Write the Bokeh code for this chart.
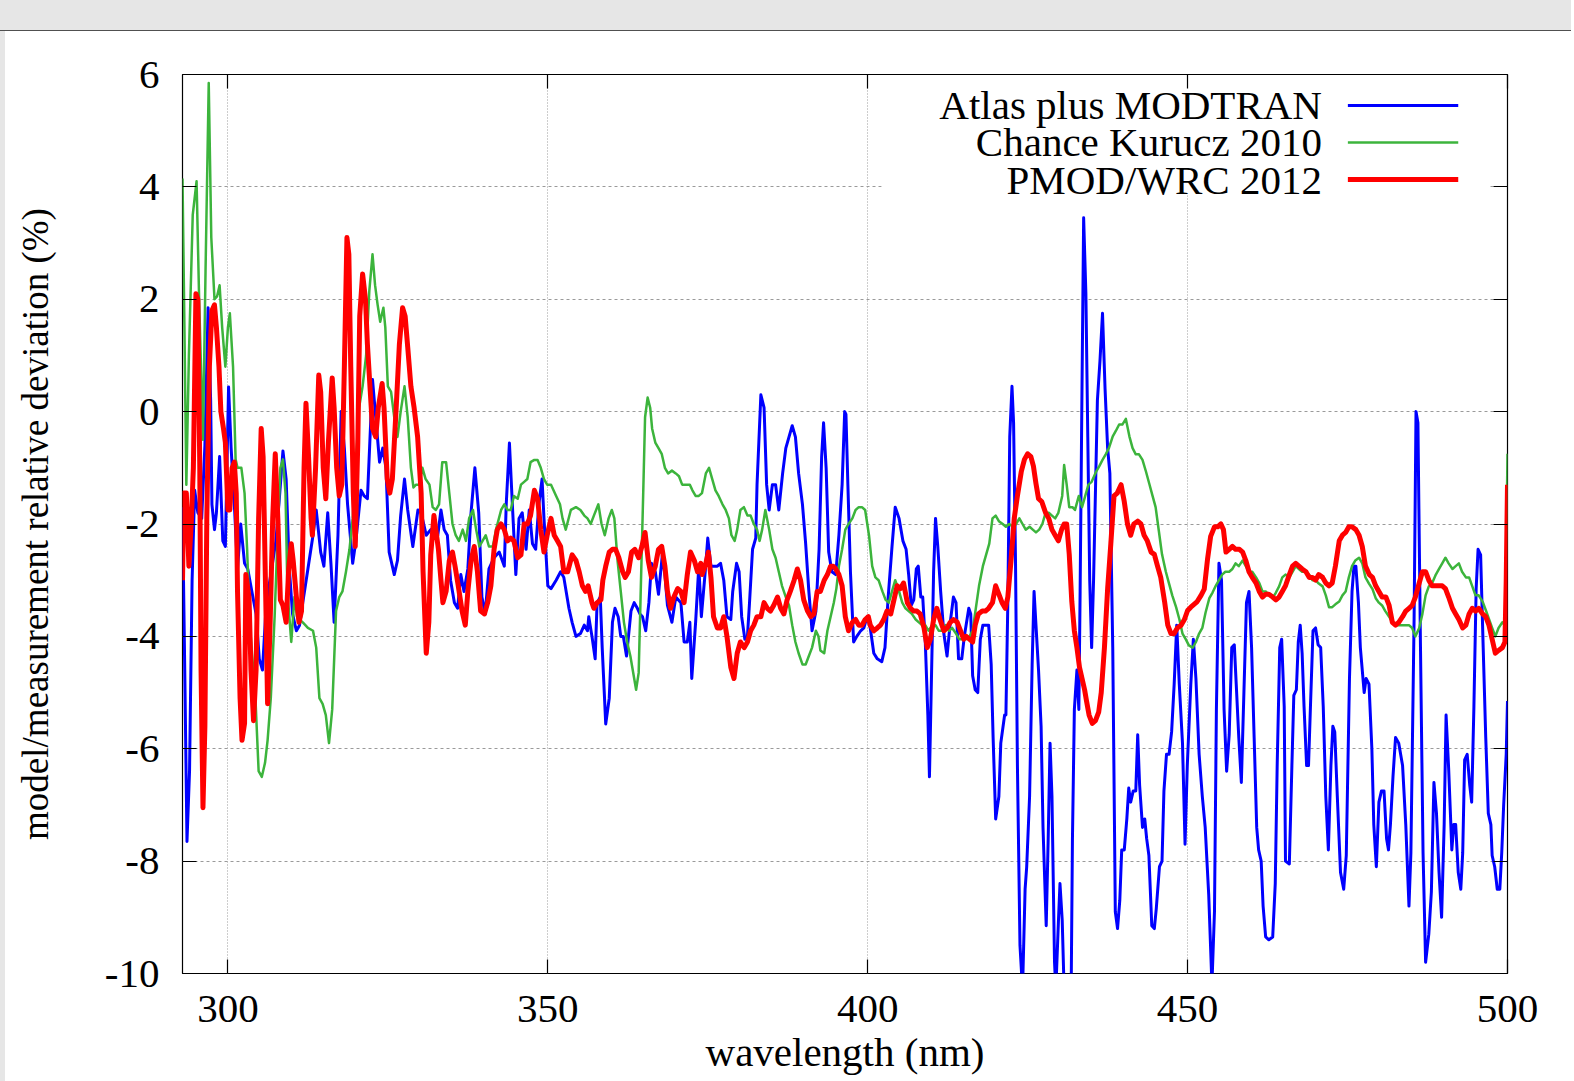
import numpy as np
from bokeh.plotting import figure
from bokeh.models import (Range1d, FixedTicker, LinearAxis, Label, Arrow,
                          BoxAnnotation, Grid, Div)
from bokeh.layouts import column, row
from bokeh.embed import file_html
from bokeh.resources import INLINE

# ---------------- data ----------------
wl_atlas = [292.9, 293.3, 293.6, 294.0, 294.4, 294.8, 295.3, 295.9, 296.4, 296.9, 297.3, 297.5, 297.9, 298.2, 298.7,
            299.2, 299.6, 300.1, 300.5, 301.0, 301.5, 302.0, 302.6, 303.1, 303.9, 304.4, 304.9, 305.4, 306.0, 306.7,
            307.5, 308.0, 308.6, 309.1, 309.6, 310.1, 310.7, 311.2, 311.7, 312.5, 313.3, 313.8, 314.5, 315.0, 315.6,
            316.1, 316.6, 317.2, 317.7, 318.2, 318.7, 319.5, 320.0, 320.8, 321.3, 321.8, 322.6, 323.1, 323.7, 324.2,
            324.7, 325.2, 326.0, 326.5, 327.0, 327.6, 328.1, 328.9, 329.7, 330.2, 331.0, 331.7, 332.8, 333.3, 333.8,
            334.3, 334.8, 335.4, 335.9, 336.4, 336.9, 337.5, 338.0, 338.6, 339.2, 339.7, 340.2, 340.8, 341.6, 342.4,
            343.2, 343.5, 344.0, 344.5, 345.0, 345.5, 346.0, 346.6, 347.1, 347.6, 348.1, 348.6, 349.1, 349.4, 350.0,
            350.5, 351.3, 352.0, 352.5, 353.3, 353.8, 354.4, 355.1, 355.7, 356.2, 356.4, 356.9, 357.4, 357.7, 358.2,
            358.5, 359.05, 359.6, 360.1, 360.5, 361.0, 361.4, 361.8, 362.3, 363.0, 363.5, 364.0, 364.4, 364.8, 365.3,
            365.8, 366.2, 366.8, 367.3, 367.9, 368.3, 368.7, 369.4, 370.0, 370.8, 371.3, 371.8, 372.2, 372.5, 373.1,
            373.6, 374.0, 374.6, 375.0, 375.5, 376.0, 376.5, 377.0, 377.5, 378.0, 378.6, 378.9, 379.5, 379.9, 380.3,
            380.8, 381.2, 381.5, 382.0, 382.5, 382.7, 383.3, 383.8, 384.2, 384.6, 385.1, 385.6, 386.1, 386.7, 387.2,
            387.7, 388.2, 388.7, 389.2, 389.8, 390.3, 390.8, 391.3, 391.9, 392.4, 392.8, 393.1, 393.5, 393.9, 394.4,
            395.0, 395.5, 396.0, 396.4, 396.6, 396.9, 397.3, 397.8, 398.3, 398.9, 399.4, 399.9, 400.4, 400.95, 401.5,
            402.2, 402.7, 403.2, 403.8, 404.3, 404.9, 405.5, 406.0, 406.4, 406.8, 407.2, 407.6, 407.9, 408.3, 408.6,
            409.0, 409.4, 409.65, 409.9, 410.3, 410.6, 410.95, 411.4, 411.9, 412.4, 412.9, 413.4, 413.8, 414.2, 414.7,
            415.1, 415.8, 416.1, 416.4, 416.8, 417.2, 417.6, 418.0, 418.5, 418.9, 419.3, 419.6, 420.0, 420.5, 420.8,
            421.4, 421.6, 421.9, 422.2, 422.55, 422.8, 423.1, 423.4, 423.8, 424.2, 424.6, 424.85, 425.3, 425.7, 426.0,
            426.3, 426.7, 427.1, 427.4, 427.9, 428.2, 428.5, 428.8, 429.2, 429.4, 429.8, 430.05, 430.4, 430.7, 431.2,
            431.8, 432.0, 432.3, 432.7, 433.0, 433.2, 433.5, 433.75, 434.1, 434.4, 434.7, 435.0, 435.3, 435.6, 435.9,
            436.3, 436.7, 437.1, 437.5, 437.85, 438.3, 438.7, 439.05, 439.4, 439.7, 440.1, 440.5, 440.8, 441.1, 441.5,
            441.9, 442.2, 442.5, 442.95, 443.3, 443.6, 443.95, 444.4, 444.8, 445.1, 445.6, 446.0, 446.3, 446.7, 447.1,
            447.5, 447.9, 448.3, 448.7, 449.2, 449.6, 449.95, 450.5, 450.9, 451.3, 451.8, 452.3, 452.75, 453.3, 453.8,
            454.2, 454.5, 454.9, 455.3, 455.7, 456.1, 456.5, 456.9, 457.3, 457.6, 458.0, 458.4, 458.8, 459.2, 459.6,
            460.0, 460.4, 460.8, 461.1, 461.5, 461.8, 462.2, 462.7, 463.3, 463.7, 464.0, 464.4, 464.7, 465.1, 465.3,
            465.9, 466.3, 466.6, 467.0, 467.3, 467.6, 467.9, 468.2, 468.6, 468.9, 469.2, 469.6, 470.0, 470.4, 470.8,
            471.2, 471.6, 472.0, 472.4, 472.7, 473.0, 473.4, 473.9, 474.4, 474.8, 475.3, 475.7, 476.0, 476.3, 476.7,
            477.0, 477.6, 477.9, 478.35, 478.8, 479.1, 479.5, 479.9, 480.3, 480.7, 481.1, 481.4, 481.7, 482.1, 482.5,
            483.0, 483.6, 484.1, 484.6, 484.9, 485.4, 485.7, 486.0, 486.4, 486.8, 487.2, 487.7, 488.1, 488.5, 488.9,
            489.3, 489.7, 490.1, 490.4, 490.8, 491.3, 491.6, 491.9, 492.3, 492.7, 493.0, 493.3, 493.7, 494.1, 494.4,
            494.75, 495.1, 495.4, 495.8, 496.2, 496.6, 497.0, 497.4, 497.6, 498.0, 498.4, 498.8, 499.1, 499.4, 499.8,
            500.0]
dev_atlas = [-1.7, -5.0, -7.65, -6.4, -3.0, -1.4, -1.8, -1.9, -0.6, 1.85, 0.2, -1.65, -2.1, -1.8, -0.8,
             -2.3, -2.4, 0.44, -0.65, -1.65, -2.8, -2.0, -2.7, -2.8, -3.3, -3.6, -4.4, -4.6, -3.4, -2.9,
             -2.3, -1.6, -0.7, -1.2, -2.8, -3.6, -3.9, -3.8, -3.4, -2.8, -2.2, -1.75, -2.5, -2.75, -1.8,
             -2.7, -3.75, -2.2, 0.0, -0.65, -1.65, -2.7, -2.3, -1.4, -1.5, -1.55, 0.57, -0.1, -0.9, -0.65,
             -1.0, -2.5, -2.9, -2.65, -1.85, -1.2, -1.75, -2.4, -1.75, -1.8, -2.2, -2.1, -2.2, -1.75, -2.1,
             -2.2, -3.0, -3.4, -3.5, -2.9, -3.2, -2.8, -1.8, -1.0, -1.8, -3.3, -3.6, -2.8, -2.6, -2.5,
             -2.75, -1.65, -0.56, -1.75, -2.9, -1.9, -1.8, -2.45, -1.75, -2.35, -2.45, -1.65, -1.2, -1.9, -3.1,
             -3.15, -3.0, -2.85, -2.95, -3.5, -3.75, -4.0, -3.95, -3.8, -3.9, -3.65, -4.0, -4.4, -3.4, -3.3,
             -4.2, -5.56, -5.1, -3.75, -3.5, -3.65, -4.0, -4.0, -4.35, -3.55, -3.4, -3.5, -3.6, -3.65, -3.9,
             -3.4, -2.7, -2.85, -3.25, -2.55, -2.9, -3.45, -3.75, -3.3, -3.4, -4.1, -4.1, -3.75, -4.75, -3.75,
             -2.75, -3.65, -2.85, -2.25, -2.75, -2.75, -2.75, -2.7, -3.0, -3.65, -3.7, -3.2, -2.7, -2.85, -3.65,
             -4.05, -4.0, -3.45, -2.45, -2.25, -1.3, 0.3, 0.07, -1.3, -1.75, -1.3, -1.3, -1.75, -1.1, -0.65,
             -0.45, -0.25, -0.45, -1.1, -1.65, -2.35, -3.2, -3.9, -3.55, -2.45, -0.8, -0.2, -1.0, -2.5, -2.85,
             -2.9, -2.2, -1.3, 0.0, -0.05, -1.3, -2.85, -4.1, -4.0, -3.9, -3.85, -3.65, -3.85, -4.3, -4.4,
             -4.45, -4.2, -3.3, -2.4, -1.7, -1.9, -2.3, -2.45, -2.9, -3.45, -3.35, -2.8, -2.75, -3.3, -3.3,
             -4.1, -5.4, -6.5, -5.1, -2.85, -1.9, -2.4, -3.2, -3.95, -4.35, -3.75, -3.3, -3.4, -4.4, -4.4,
             -4.0, -3.5, -3.6, -4.7, -4.95, -5.0, -4.05, -3.8, -3.8, -3.8, -4.5, -5.8, -7.25, -6.85, -5.9,
             -5.4, -5.4, -3.4, -0.45, 0.45, -0.2, -2.65, -6.3, -9.5, -10.3, -8.5, -8.1, -6.85, -4.5, -3.2,
             -3.8, -4.6, -5.6, -7.4, -9.15, -7.65, -5.9, -6.85, -9.8, -10.3, -9.1, -8.4, -9.05, -10.3, -10.5,
             -10.3, -7.6, -5.3, -4.6, -5.3, -3.2, 0.5, 3.45, 2.1, -0.45, -3.0, -4.2, -3.0, -1.4, 0.2,
             0.9, 1.75, 0.4, -0.65, -1.1, -4.2, -8.9, -9.2, -8.7, -7.8, -7.8, -7.25, -6.7, -6.95, -6.75,
             -6.75, -5.75, -6.65, -7.4, -7.25, -7.6, -7.9, -9.15, -9.2, -8.85, -8.1, -8.0, -6.75, -6.1, -6.1,
             -5.7, -4.85, -3.8, -4.85, -5.9, -7.7, -6.3, -4.85, -4.05, -4.75, -6.1, -6.85, -7.4, -8.6, -10.2,
             -8.9, -5.3, -2.7, -3.0, -5.3, -6.4, -5.75, -4.2, -4.15, -4.85, -5.8, -6.6, -5.0, -3.4, -3.2,
             -4.2, -5.8, -7.4, -7.8, -8.0, -8.8, -9.35, -9.4, -9.35, -8.4, -6.3, -4.2, -4.05, -5.25, -8.0,
             -8.05, -6.3, -5.05, -4.95, -4.1, -3.8, -4.3, -5.25, -6.3, -6.3, -5.25, -3.9, -3.85, -4.15, -4.2,
             -5.25, -6.85, -7.8, -6.3, -5.6, -5.7, -6.85, -8.2, -8.5, -7.9, -4.75, -3.2, -2.75, -2.75, -3.4,
             -4.2, -5.0, -4.75, -4.85, -6.0, -7.35, -8.1, -6.95, -6.75, -6.75, -7.6, -7.8, -7.35, -6.5, -5.8,
             -5.9, -6.3, -7.35, -8.8, -7.85, -3.7, 0.0, -0.2, -4.2, -7.85, -9.8, -9.3, -8.55, -6.6, -7.15,
             -8.2, -9.0, -7.35, -5.4, -6.35, -7.8, -7.35, -7.35, -8.2, -8.5, -7.85, -6.2, -6.1, -6.65, -6.95,
             -5.25, -3.15, -2.45, -2.55, -4.2, -5.8, -7.15, -7.35, -7.9, -8.1, -8.5, -8.5, -7.85, -7.0, -6.1,
             -5.15]

wl_chance = [292.9, 293.2, 293.5, 293.9, 294.5, 295.1, 295.5, 296.1, 296.5, 297.0, 297.4, 297.9, 298.3, 298.7, 299.1,
             299.6, 300.0, 300.3, 300.8, 301.2, 301.5, 302.1, 302.6, 303.0, 303.4, 303.8, 304.3, 304.8, 305.3, 305.8,
             306.2, 306.7, 307.3, 307.8, 308.2, 308.6, 309.0, 309.3, 309.9, 310.4, 310.8, 311.2, 311.7, 312.5, 313.3,
             313.8, 314.3, 314.8, 315.3, 315.8, 316.3, 316.9, 317.4, 317.9, 318.45, 319.0, 319.5, 320.0, 320.5, 321.05,
             321.6, 322.1, 322.6, 323.0, 323.4, 323.8, 324.3, 324.6, 325.0, 325.5, 326.0, 326.5, 327.0, 327.6, 328.1,
             328.6, 329.0, 329.4, 329.9, 330.4, 330.9, 331.5, 332.0, 332.5, 333.0, 333.5, 334.1, 334.6, 335.1, 335.6,
             336.1, 336.7, 337.2, 337.7, 338.3, 338.8, 339.3, 339.8, 340.3, 340.8, 341.4, 341.9, 342.7, 343.2, 343.7,
             344.2, 344.7, 345.3, 345.8, 346.3, 346.8, 347.3, 347.9, 348.4, 348.9, 349.4, 349.9, 350.5, 351.3, 351.9,
             352.3, 352.8, 353.6, 354.4, 355.1, 355.7, 356.2, 356.7, 357.2, 357.9, 358.4, 358.9, 359.5, 360.0, 360.4,
             360.9, 361.4, 361.9, 362.4, 362.9, 363.5, 363.8, 364.2, 364.5, 364.9, 365.2, 365.6, 366.0, 366.3, 366.8,
             367.3, 367.8, 368.3, 368.8, 369.4, 370.0, 370.5, 371.0, 371.5, 372.2, 372.6, 373.1, 373.6, 374.1, 374.7,
             375.2, 375.7, 376.2, 376.7, 377.3, 377.8, 378.3, 378.7, 379.2, 379.6, 380.1, 380.65, 381.2, 381.7, 382.2,
             382.7, 383.1, 383.5, 384.0, 384.6, 385.1, 385.6, 386.1, 386.6, 387.2, 387.7, 388.2, 388.7, 389.2, 389.8,
             390.3, 390.8, 391.3, 391.9, 392.3, 392.6, 393.2, 393.7, 394.2, 394.7, 395.1, 395.5, 396.0, 396.5, 397.0,
             397.6, 398.1, 398.6, 399.1, 399.6, 400.2, 400.7, 401.2, 401.7, 402.3, 402.8, 403.3, 403.8, 404.3, 404.9,
             405.4, 405.9, 406.4, 406.9, 407.5, 408.0, 408.5, 409.0, 409.5, 410.1, 410.6, 411.1, 411.6, 412.2, 412.7,
             413.2, 413.8, 414.3, 414.8, 415.4, 415.9, 416.4, 416.9, 417.4, 418.0, 418.5, 419.0, 419.5, 420.0, 420.5,
             421.1, 421.6, 422.1, 422.7, 423.2, 423.7, 424.2, 424.7, 425.3, 425.8, 426.3, 426.8, 427.3, 427.8, 428.3,
             428.8, 429.3, 429.8, 430.4, 430.7, 431.1, 431.5, 432.0, 432.4, 433.0, 433.5, 434.0, 434.5, 435.0, 435.7,
             436.2, 436.7, 437.2, 437.7, 438.3, 438.8, 439.3, 439.8, 440.35, 440.9, 441.4, 441.9, 442.4, 442.95, 443.5,
             444.0, 444.5, 445.0, 445.5, 446.0, 446.6, 447.1, 447.6, 448.2, 448.7, 449.2, 449.7, 450.2, 450.8, 451.3,
             451.8, 452.3, 452.8, 453.4, 453.9, 454.4, 454.9, 455.4, 455.9, 456.5, 457.0, 457.5, 458.0, 458.6, 459.1,
             459.6, 460.1, 460.7, 461.2, 461.7, 462.2, 462.8, 463.3, 463.8, 464.3, 464.8, 465.3, 465.9, 466.4, 466.9,
             467.4, 467.9, 468.5, 469.0, 469.5, 470.0, 470.5, 471.1, 471.6, 472.1, 472.6, 473.1, 473.7, 474.2, 474.7,
             475.2, 475.7, 476.2, 476.8, 477.3, 477.8, 478.35, 478.9, 479.4, 479.9, 480.4, 480.9, 481.5, 482.0, 482.5,
             483.0, 483.6, 484.1, 484.6, 485.1, 485.6, 486.2, 486.7, 487.2, 487.7, 488.2, 488.8, 489.3, 489.8, 490.3,
             490.8, 491.4, 491.9, 492.4, 492.9, 493.5, 494.0, 494.5, 495.0, 495.5, 496.1, 496.6, 497.1, 497.6, 498.1,
             498.6, 499.2, 499.6, 499.8, 500.0]
dev_chance = [4.15, 1.5, -1.3, 1.0, 3.5, 4.1, 2.0, -0.5, 2.5, 5.85, 3.1, 2.0, 2.05, 2.25, 1.5,
              0.8, 1.5, 1.75, 0.8, -0.85, -1.0, -1.0, -1.45, -2.45, -3.75, -4.35, -5.1, -6.4, -6.5, -6.25,
              -5.85, -5.1, -3.65, -2.1, -1.0, -0.85, -1.45, -3.2, -4.1, -3.3, -3.65, -3.7, -3.75, -3.85, -3.9,
              -4.2, -5.1, -5.2, -5.4, -5.9, -5.3, -3.55, -3.3, -3.2, -2.85, -2.45, -1.9, -0.9, 0.07, 0.45,
              1.0, 2.15, 2.8, 2.25, 1.9, 1.6, 1.85, 1.5, 0.45, 0.35, -0.1, -0.45, 0.0, 0.45, -0.1,
              -1.0, -1.35, -1.3, -1.3, -1.0, -1.2, -1.3, -1.7, -1.75, -1.65, -0.9, -0.9, -1.45, -2.0, -2.2,
              -2.3, -2.1, -2.3, -1.9, -1.75, -2.1, -2.4, -2.3, -2.2, -2.4, -2.4, -2.1, -1.75, -1.65, -1.75,
              -1.75, -1.5, -1.55, -1.3, -1.25, -1.2, -0.9, -0.86, -0.86, -1.0, -1.2, -1.3, -1.3, -1.5, -1.65,
              -1.9, -2.1, -1.75, -1.7, -1.75, -1.85, -1.9, -2.0, -1.85, -1.65, -2.0, -2.2, -1.9, -1.75, -1.9,
              -2.65, -3.2, -3.75, -4.1, -4.35, -4.75, -4.95, -4.65, -3.3, -1.5, -0.1, 0.25, 0.07, -0.3, -0.55,
              -0.65, -0.75, -1.0, -1.1, -1.05, -1.1, -1.15, -1.3, -1.3, -1.3, -1.4, -1.5, -1.5, -1.45, -1.1,
              -1.0, -1.2, -1.4, -1.5, -1.65, -1.75, -1.9, -2.2, -2.3, -2.1, -1.75, -1.7, -1.85, -1.85, -2.0,
              -2.1, -2.3, -2.1, -1.75, -2.1, -2.45, -2.6, -2.85, -3.1, -3.3, -3.45, -3.8, -4.1, -4.3, -4.5,
              -4.5, -4.35, -4.2, -3.9, -4.0, -4.25, -4.3, -3.9, -3.65, -3.4, -3.15, -2.75, -2.45, -2.1, -2.0,
              -1.9, -1.75, -1.7, -1.7, -1.75, -2.2, -2.75, -2.95, -3.0, -3.2, -3.35, -3.4, -3.2, -3.0, -3.2,
              -3.4, -3.5, -3.55, -3.6, -3.7, -3.75, -3.8, -3.8, -3.9, -3.8, -3.8, -3.9, -3.9, -3.8, -3.9,
              -3.85, -3.95, -4.05, -4.05, -4.05, -4.0, -3.9, -3.5, -3.1, -2.75, -2.55, -2.35, -1.9, -1.85, -1.95,
              -2.0, -2.05, -2.0, -2.05, -2.0, -1.9, -2.0, -2.1, -2.05, -2.1, -2.15, -2.1, -2.0, -1.8, -1.8,
              -1.85, -1.9, -1.8, -1.5, -0.95, -1.3, -1.7, -1.7, -1.75, -1.5, -1.7, -1.5, -1.3, -1.25, -1.07,
              -0.97, -0.86, -0.76, -0.65, -0.44, -0.34, -0.23, -0.23, -0.13, -0.44, -0.65, -0.76, -0.76, -0.86, -1.07,
              -1.28, -1.49, -1.7, -2.12, -2.54, -2.85, -3.06, -3.27, -3.48, -3.69, -3.95, -4.05, -4.16, -4.2, -4.1,
              -3.95, -3.85, -3.58, -3.32, -3.22, -3.1, -3.0, -2.9, -2.85, -2.85, -2.8, -2.7, -2.75, -2.65, -2.75,
              -2.85, -2.85, -2.95, -3.05, -3.2, -3.2, -3.27, -3.32, -3.22, -3.11, -2.95, -2.9, -2.95, -2.85, -2.75,
              -2.8, -2.85, -2.85, -2.9, -3.0, -3.0, -3.06, -3.11, -3.27, -3.48, -3.48, -3.43, -3.38, -3.27, -3.2,
              -2.95, -2.75, -2.65, -2.6, -2.7, -2.95, -3.06, -3.16, -3.32, -3.4, -3.45, -3.55, -3.65, -3.75, -3.8,
              -3.8, -3.8, -3.8, -3.8, -3.85, -4.0, -3.85, -3.6, -3.27, -3.11, -3.06, -2.9, -2.8, -2.7, -2.6,
              -2.7, -2.8, -2.75, -2.7, -2.85, -2.95, -2.95, -3.11, -3.27, -3.27, -3.38, -3.53, -3.69, -3.85, -4.0,
              -3.85, -3.75, -3.8, -2.5, -0.75]

wl_pmod = [292.9, 293.1, 293.5, 293.9, 294.3, 294.6, 295.0, 295.3, 295.6, 295.8, 296.1, 296.4, 296.7, 297.1, 297.5,
           297.9, 298.2, 298.6, 298.9, 299.3, 299.6, 300.0, 300.3, 300.65, 301.0, 301.3, 301.5, 301.9, 302.2, 302.6,
           302.8, 303.3, 303.6, 304.0, 304.4, 304.8, 305.2, 305.5, 305.9, 306.2, 306.6, 307.0, 307.4, 307.8, 308.2,
           308.6, 309.1, 309.5, 309.9, 310.2, 310.7, 311.1, 311.5, 311.9, 312.2, 312.6, 313.0, 313.2, 313.7, 314.2,
           314.5, 314.9, 315.3, 315.7, 316.3, 316.6, 317.0, 317.4, 317.8, 318.2, 318.6, 318.9, 319.2, 319.6, 319.9,
           320.3, 320.6, 321.05, 321.5, 321.8, 322.2, 322.6, 323.1, 323.5, 324.1, 324.4, 324.9, 325.3, 325.7, 326.3,
           326.8, 327.3, 327.7, 328.1, 328.6, 329.1, 329.65, 330.2, 330.5, 331.0, 331.4, 331.7, 332.2, 332.9, 333.3,
           333.6, 334.1, 334.6, 335.1, 335.5, 336.0, 336.6, 337.1, 337.5, 338.0, 338.5, 339.0, 339.5, 340.1, 340.6,
           341.1, 341.6, 342.1, 342.7, 343.2, 343.7, 344.2, 344.7, 345.3, 345.8, 346.3, 346.8, 347.3, 347.9, 348.4,
           348.9, 349.4, 349.9, 350.5, 351.0, 351.5, 352.0, 352.5, 353.1, 353.8, 354.4, 354.9, 355.4, 355.9, 356.3,
           356.9, 357.2, 357.7, 358.3, 358.6, 359.05, 359.6, 360.1, 360.6, 361.1, 361.7, 362.1, 362.6, 363.1, 363.6,
           364.2, 364.7, 365.2, 365.7, 366.2, 366.8, 367.3, 367.8, 368.3, 368.7, 369.2, 369.7, 370.3, 370.8, 371.3,
           371.8, 372.3, 372.9, 373.4, 373.9, 374.1, 374.7, 375.1, 375.5, 375.9, 376.5, 377.0, 377.5, 378.0, 378.6,
           379.1, 379.6, 380.1, 380.7, 381.2, 381.7, 382.2, 382.7, 383.3, 383.8, 384.3, 384.8, 385.3, 385.9, 386.4,
           386.9, 387.4, 387.9, 388.5, 389.0, 389.5, 390.0, 390.6, 391.1, 391.6, 392.1, 392.6, 393.2, 393.7, 394.2,
           394.6, 395.0, 395.5, 396.0, 396.5, 397.0, 397.6, 398.1, 398.6, 399.1, 399.6, 400.1, 400.4, 400.95, 401.5,
           402.0, 402.5, 403.0, 403.6, 404.1, 404.6, 405.1, 405.6, 406.2, 406.7, 407.2, 407.7, 408.2, 408.8, 409.3,
           409.8, 410.3, 410.8, 411.3, 411.9, 412.4, 412.9, 413.4, 414.0, 414.5, 415.0, 415.4, 415.9, 416.4, 416.8,
           417.3, 417.9, 418.4, 418.9, 419.5, 420.0, 420.5, 421.0, 421.5, 421.9, 422.4, 422.9, 423.4, 424.0, 424.5,
           425.0, 425.5, 425.9, 426.3, 426.7, 427.2, 427.8, 428.3, 428.8, 429.3, 429.8, 430.3, 430.7, 431.1, 431.5,
           431.9, 432.3, 432.7, 433.1, 433.5, 433.9, 434.2, 434.6, 435.1, 435.6, 436.1, 436.5, 437.0, 437.5, 438.0,
           438.5, 439.0, 439.6, 440.1, 440.6, 441.1, 441.6, 442.2, 442.7, 443.2, 443.7, 444.3, 444.8, 445.3, 445.8,
           446.4, 446.9, 447.4, 447.9, 448.4, 449.0, 449.5, 450.0, 450.5, 451.0, 451.5, 452.1, 452.6, 453.1, 453.6,
           454.2, 454.7, 455.2, 455.6, 456.0, 456.5, 457.0, 457.5, 458.1, 458.6, 459.1, 459.6, 460.1, 460.7, 461.2,
           461.7, 462.2, 462.7, 463.3, 463.8, 464.3, 464.8, 465.3, 465.9, 466.4, 466.9, 467.4, 467.9, 468.5, 469.0,
           469.5, 470.0, 470.5, 471.1, 471.6, 472.1, 472.6, 473.1, 473.7, 474.2, 474.7, 475.2, 475.7, 476.3, 476.8,
           477.3, 477.8, 478.4, 478.9, 479.4, 479.9, 480.4, 481.0, 481.5, 482.0, 482.5, 483.0, 483.6, 484.1, 484.6,
           485.1, 485.6, 486.2, 486.7, 487.2, 487.7, 488.2, 488.8, 489.3, 489.8, 490.3, 490.8, 491.4, 491.9, 492.4,
           493.0, 493.5, 494.0, 494.5, 495.0, 495.5, 496.1, 496.6, 497.1, 497.6, 498.1, 498.6, 499.2, 499.6, 499.8,
           500.0]
dev_pmod = [-3.0, -1.45, -1.45, -2.75, -1.9, -1.0, 2.1, 2.0, -1.0, -4.6, -7.05, -5.6, -1.9, 0.8, 1.8,
            1.9, 1.5, 0.8, 0.0, -0.3, -0.55, -1.75, -1.75, -1.0, -0.9, -1.45, -3.2, -5.1, -5.85, -5.55,
            -2.9, -3.3, -4.6, -5.5, -4.6, -1.9, -0.3, -0.8, -3.25, -5.2, -3.75, -1.9, -0.75, -1.9, -3.35,
            -3.45, -3.75, -2.8, -2.35, -2.65, -3.3, -3.75, -3.55, -1.0, 0.15, -0.8, -1.9, -2.2, -1.0, 0.65,
            0.35, -1.0, -1.55, -0.55, 0.6, 0.07, -1.0, -1.5, -1.3, 0.8, 3.1, 2.8, 0.8, -1.45, -2.4,
            -0.55, 1.7, 2.45, 2.0, 1.2, 0.45, -0.3, -0.45, 0.07, 0.5, 0.07, -1.2, -1.45, -1.2, 0.07,
            1.2, 1.85, 1.7, 1.15, 0.45, 0.07, -0.45, -1.45, -2.85, -4.3, -3.75, -2.55, -1.85, -2.45, -3.0,
            -3.4, -3.2, -2.65, -2.5, -2.75, -3.1, -3.55, -3.8, -3.2, -2.65, -2.4, -2.85, -3.55, -3.6, -3.4,
            -3.1, -2.45, -2.1, -2.0, -2.1, -2.3, -2.25, -2.3, -2.6, -2.55, -2.0, -2.0, -1.85, -1.4, -1.55,
            -2.1, -2.5, -2.2, -1.9, -2.2, -2.3, -2.4, -2.85, -2.85, -2.55, -2.65, -2.85, -3.1, -3.2, -3.1,
            -3.4, -3.5, -3.4, -3.35, -3.0, -2.75, -2.5, -2.45, -2.45, -2.6, -2.85, -2.95, -2.85, -2.5, -2.45,
            -2.6, -2.4, -2.15, -2.65, -2.95, -2.75, -2.45, -2.4, -2.75, -3.2, -3.5, -3.3, -3.15, -3.2, -3.4,
            -2.9, -2.5, -2.65, -2.85, -2.7, -2.9, -2.7, -2.5, -2.95, -3.65, -3.85, -3.85, -3.65, -4.0, -4.55,
            -4.75, -4.3, -4.1, -4.2, -4.1, -3.9, -3.8, -3.65, -3.65, -3.4, -3.5, -3.55, -3.45, -3.3, -3.5,
            -3.6, -3.35, -3.2, -3.0, -2.8, -3.0, -3.35, -3.55, -3.65, -3.6, -3.2, -3.2, -3.0, -2.9, -2.75,
            -2.75, -2.8, -2.9, -3.1, -3.65, -3.9, -3.75, -3.7, -3.8, -3.8, -3.7, -3.65, -3.8, -3.9, -3.85,
            -3.8, -3.7, -3.55, -3.6, -3.35, -3.1, -3.15, -3.05, -3.4, -3.5, -3.55, -3.55, -3.6, -3.85, -4.2,
            -4.05, -3.7, -3.5, -3.7, -3.9, -3.85, -3.75, -3.7, -3.75, -3.9, -4.05, -4.0, -4.05, -4.1, -3.8,
            -3.6, -3.55, -3.55, -3.5, -3.4, -3.1, -3.25, -3.4, -3.5, -3.3, -2.65, -1.9, -1.5, -1.07, -0.85,
            -0.75, -0.8, -0.97, -1.28, -1.55, -1.6, -1.8, -1.9, -2.1, -2.2, -2.3, -2.1, -2.0, -2.0, -2.54,
            -3.38, -3.9, -4.2, -4.55, -4.75, -4.95, -5.15, -5.4, -5.55, -5.5, -5.35, -5.0, -4.2, -3.15, -2.35,
            -1.5, -1.45, -1.3, -1.6, -2.0, -2.2, -2.0, -1.95, -2.0, -2.2, -2.3, -2.5, -2.54, -2.75, -2.95,
            -3.38, -3.8, -3.95, -3.95, -3.85, -3.8, -3.7, -3.54, -3.48, -3.43, -3.38, -3.27, -3.16, -2.64, -2.22,
            -2.05, -2.05, -2.0, -2.1, -2.5, -2.45, -2.4, -2.45, -2.45, -2.5, -2.65, -2.85, -2.95, -3.05, -3.2,
            -3.3, -3.25, -3.25, -3.3, -3.35, -3.3, -3.2, -3.1, -2.9, -2.75, -2.7, -2.75, -2.8, -2.85, -2.95,
            -2.95, -3.0, -2.9, -2.95, -3.05, -3.1, -3.05, -2.75, -2.3, -2.2, -2.15, -2.05, -2.05, -2.1, -2.2,
            -2.4, -2.75, -2.9, -2.95, -3.1, -3.2, -3.3, -3.3, -3.45, -3.75, -3.8, -3.75, -3.65, -3.55, -3.5,
            -3.45, -3.3, -3.05, -2.85, -2.85, -3.0, -3.1, -3.1, -3.1, -3.1, -3.15, -3.3, -3.5, -3.6, -3.7,
            -3.85, -3.8, -3.6, -3.5, -3.55, -3.5, -3.6, -3.65, -3.8, -4.05, -4.3, -4.25, -4.2, -4.1, -3.0,
            -1.3]

series_names = ["Atlas plus MODTRAN", "Chance Kurucz 2010", "PMOD/WRC 2012"]
x_ticks = [300, 350, 400, 450, 500]
y_ticks = [-10, -8, -6, -4, -2, 0, 2, 4, 6]
x_label = "wavelength (nm)"
y_label = "model/measurement relative deviation (%)"

# ---------------- styling ----------------
FONT = "Liberation Serif"
COLORS = ["#0000ff", "#3cb43c", "#ff0000"]
WIDTHS = [3, 2.5, 5]
CHROME = "#e6e6e6"
TXT = "41px"

p = figure(width=1566, height=1050, output_backend="svg", toolbar_location=None,
           x_range=Range1d(292.9, 500), y_range=Range1d(-10, 6),
           min_border_left=177, min_border_right=64, min_border_top=43, min_border_bottom=108,
           x_axis_type=None, y_axis_type=None, margin=0)
p.background_fill_color = "white"
p.border_fill_color = "white"
p.outline_line_color = "black"
p.outline_line_width = 1.2

xb = LinearAxis(axis_label=x_label)
xt = LinearAxis()
yl = LinearAxis(axis_label=y_label)
yr = LinearAxis()
for ax, ticks, show in [(xb, x_ticks, True), (xt, x_ticks, False), (yl, y_ticks, True), (yr, y_ticks, False)]:
    ax.ticker = FixedTicker(ticks=ticks)
    ax.axis_line_color = None
    ax.major_tick_in = 14
    ax.major_tick_out = 0
    ax.major_tick_line_color = "black"
    ax.major_tick_line_width = 1.2
    ax.minor_tick_line_color = None
    ax.major_label_text_font = FONT
    ax.major_label_text_color = "black"
    if show:
        ax.major_label_overrides = {t: str(t) for t in ticks}
        ax.major_label_text_font_size = TXT
        ax.axis_label_text_font = FONT
        ax.axis_label_text_font_style = "normal"
        ax.axis_label_text_color = "black"
    else:
        ax.major_label_text_font_size = "0px"
        ax.major_label_text_alpha = 0

xb.major_label_standoff = 22
xb.axis_label_text_font_size = TXT
xb.axis_label_standoff = 4

yl.major_label_standoff = 23
yl.axis_label_text_font_size = "37px"
yl.axis_label_standoff = 46

p.add_layout(xb, "below")
p.add_layout(xt, "above")
p.add_layout(yl, "left")
p.add_layout(yr, "right")

gx = Grid(dimension=0, ticker=FixedTicker(ticks=x_ticks), grid_line_color="#9a9a9a",
          grid_line_dash="1 2", grid_line_width=1)
gy = Grid(dimension=1, ticker=FixedTicker(ticks=y_ticks), grid_line_color="#9a9a9a",
          grid_line_dash="3 3", grid_line_width=1)
p.add_layout(gx)
p.add_layout(gy)

# legend backing box (hides the grid behind the key, like gnuplot)
p.add_layout(BoxAnnotation(left=402.2, right=497.2, top=5.97, bottom=3.85,
                           fill_color="white", fill_alpha=1, line_color=None,
                           level="underlay"))

for wl, dev, c, w in [(wl_atlas, dev_atlas, COLORS[0], WIDTHS[0]),
                      (wl_chance, dev_chance, COLORS[1], WIDTHS[1]),
                      (wl_pmod, dev_pmod, COLORS[2], WIDTHS[2])]:
    p.line(wl, dev, line_color=c, line_width=w, line_join="round")

# gnuplot-style key: label right-aligned, sample line to the right
key_y = [5.45, 4.79, 4.13]
for name, c, w, ky in zip(series_names, COLORS, WIDTHS, key_y):
    p.add_layout(Label(x=471.0, y=ky, text=name, text_align="right", text_baseline="middle",
                       text_font=FONT, text_font_size=TXT, text_color="black"))
    p.add_layout(Arrow(end=None, x_start=475.05, y_start=ky, x_end=492.3, y_end=ky,
                       line_color=c, line_width=w))

# viewer chrome seen in the reference: grey band on top, thin grey strip at left
top_band = Div(width=1571, height=31, margin=0,
               styles={"background-color": CHROME, "border-bottom": "1px solid #505050",
                       "box-sizing": "border-box"})
left_strip = Div(width=5, height=1050, margin=0, styles={"background-color": CHROME})
layout = column(top_band, row(left_strip, p, spacing=0, margin=0), spacing=0, margin=0)

open("out.html", "w").write(file_html(layout, INLINE))
